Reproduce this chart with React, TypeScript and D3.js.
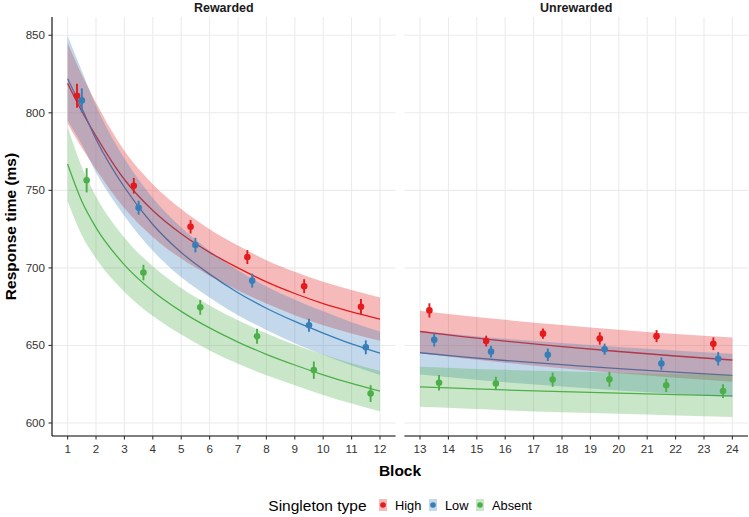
import React from 'react';
import * as d3 from 'd3';

// ---------- data ----------
const seriesNames = ['High', 'Low', 'Absent'];
const seriesColors = ['#E41A1C', '#377EB8', '#4DAF4A'];

const leftTicks = [1, 2, 3, 4, 5, 6, 7, 8, 9, 10, 11, 12];
const rightTicks = [13, 14, 15, 16, 17, 18, 19, 20, 21, 22, 23, 24];
const yTicks = [600, 650, 700, 750, 800, 850];
const panelTitles = ['Rewarded', 'Unrewarded'];

// fitted curves
const leftFitX = [1, 1.5, 2, 3, 4, 5, 6, 7, 8, 9, 10, 11, 12];
const highLeftFit = [819, 801, 785, 757, 737, 722, 710, 700, 691, 683.5, 677, 671.7, 667];
const highLeftUpper = [845, 824.5, 806.5, 775.5, 754, 738, 725, 714.5, 705, 697.5, 691, 685.7, 681];
const highLeftLower = [793, 777.5, 763.5, 738.5, 720, 706, 695, 685.5, 677, 669.5, 663, 657.7, 653];
const lowLeftFit = [822, 803, 783, 752, 728, 710, 696, 684, 674, 665.5, 658, 651, 645];
const lowLeftUpper = [849.5, 827, 804.5, 770.5, 745, 726, 711, 698.5, 688, 679.5, 672, 665, 659];
const lowLeftLower = [795, 779.5, 761.5, 733.5, 711, 694, 681, 669.5, 660, 651.5, 644, 637, 631];
const absentLeftFit = [767, 743, 726, 702, 685, 672, 661.3, 652.2, 644.3, 637.4, 631.1, 625.5, 620.5];
const absentLeftUpper = [791, 765, 746, 719.5, 701, 687, 675.8, 666.2, 657.8, 650.4, 644.1, 638.5, 633.5];
const absentLeftLower = [743, 721, 706, 684.5, 669, 657, 646.8, 638.2, 630.8, 624.4, 618.1, 612.5, 607.5];

const rightFitX = [13, 14.5, 16, 18, 20, 22, 24];
const highRightFit = [659, 655.7, 652.8, 649.3, 646.1, 643.2, 640.6];
const highRightUpper = [672.4, 669.3, 666.5, 663.2, 660.2, 657.4, 655.1];
const highRightLower = [645, 641.7, 638.8, 635.3, 632.1, 629.2, 626.6];
const lowRightFit = [645.3, 642.7, 640.3, 637.6, 635.0, 632.8, 630.7];
const lowRightUpper = [659.3, 656.7, 654.3, 651.6, 649, 646.8, 644.7];
const lowRightLower = [631.3, 628.7, 626.3, 623.6, 621, 618.8, 616.7];
const absentRightFit = [623.3, 622.3, 621.3, 620.2, 619.2, 618.3, 617.5];
const absentRightUpper = [636.2, 635.2, 634.3, 633.3, 632.4, 631.6, 631];
const absentRightLower = [610.4, 609.3, 608.2, 607, 605.9, 604.9, 603.9];

// observed means (pairs of blocks) with error half-widths
const leftPairX = [1.5, 3.5, 5.5, 7.5, 9.5, 11.5];
const rightPairX = [13.5, 15.5, 17.5, 19.5, 21.5, 23.5];
const highLeftMean = [811, 753, 726.5, 707, 688.2, 675];
const highLeftErr = [7.8, 5, 4.3, 4.5, 4.5, 5];
const lowLeftMean = [808, 738.8, 714.7, 691.8, 663, 648.8];
const lowLeftErr = [7.8, 4.5, 4.7, 4.5, 4.2, 4.5];
const absentLeftMean = [756.5, 697, 674.6, 655.9, 634.1, 619];
const absentLeftErr = [7.8, 5, 4.8, 4.8, 5.6, 5.4];
const highRightMean = [672.6, 652.8, 657.6, 654.5, 656, 651.1];
const highRightErr = [4.6, 3.5, 3.3, 4, 3.9, 4.1];
const lowRightMean = [653.6, 646, 644, 647.6, 638.3, 641.4];
const lowRightErr = [4.3, 3.8, 4, 3.6, 4, 4.3];
const absentRightMean = [625.9, 625.5, 628, 628.2, 624.3, 620.6];
const absentRightErr = [5, 4.3, 4.6, 4.8, 4.3, 4.4];

// ---------- layout ----------
const W = 749;
const H = 517;
const FONT = "'Liberation Sans', Arial, Helvetica, sans-serif";
const plotLeft = 52;
const plotRight = 748;
const panelGap = 8.8;
const panelTop = 17;
const panelBottom = 436;
const dodge = [-0.17, 0, 0.17];

type Panel = {
  title: string;
  ticks: number[];
  fitX: number[];
  fits: number[][];
  uppers: number[][];
  lowers: number[][];
  pairX: number[];
  means: number[][];
  errs: number[][];
};

const panels: Panel[] = [
  {
    title: panelTitles[0],
    ticks: leftTicks,
    fitX: leftFitX,
    fits: [highLeftFit, lowLeftFit, absentLeftFit],
    uppers: [highLeftUpper, lowLeftUpper, absentLeftUpper],
    lowers: [highLeftLower, lowLeftLower, absentLeftLower],
    pairX: leftPairX,
    means: [highLeftMean, lowLeftMean, absentLeftMean],
    errs: [highLeftErr, lowLeftErr, absentLeftErr],
  },
  {
    title: panelTitles[1],
    ticks: rightTicks,
    fitX: rightFitX,
    fits: [highRightFit, lowRightFit, absentRightFit],
    uppers: [highRightUpper, lowRightUpper, absentRightUpper],
    lowers: [highRightLower, lowRightLower, absentRightLower],
    pairX: rightPairX,
    means: [highRightMean, lowRightMean, absentRightMean],
    errs: [highRightErr, lowRightErr, absentRightErr],
  },
];

export default function App() {
  const panelW = (plotRight - plotLeft - panelGap) / 2;

  // y domain from all values with 5% expansion
  const allVals: number[] = [];
  panels.forEach((p) => {
    p.uppers.forEach((a) => allVals.push(...a));
    p.lowers.forEach((a) => allVals.push(...a));
    p.means.forEach((m, i) => m.forEach((v, j) => { allVals.push(v + p.errs[i][j], v - p.errs[i][j]); }));
  });
  const [yMin, yMax] = d3.extent(allVals) as [number, number];
  const yPad = (yMax - yMin) * 0.05;
  const y = d3.scaleLinear().domain([yMin - yPad, yMax + yPad]).range([panelBottom, panelTop]);

  return (
    <div style={{ position: 'absolute', left: 0, top: 0 }}>
      <svg width={W} height={H} style={{ display: 'block', background: '#fff' }} fontFamily={FONT}>
        <rect width={W} height={H} fill="#fff" />
        {panels.map((p, pi) => {
          const x0 = plotLeft + pi * (panelW + panelGap);
          const lo = d3.min(p.ticks)!;
          const hi = d3.max(p.ticks)!;
          const xPad = (hi - lo) * 0.05;
          const x = d3.scaleLinear().domain([lo - xPad, hi + xPad]).range([x0, x0 + panelW]);
          const line = d3.line<number>().x((_, i) => x(p.fitX[i])).y((d) => y(d)).curve(d3.curveMonotoneX);
          return (
            <g key={pi}>
              {/* grid */}
              {yTicks.map((t) => (
                <line key={'gy' + t} x1={x0} x2={x0 + panelW} y1={y(t)} y2={y(t)} stroke="#EBEBEB" strokeWidth={1.1} />
              ))}
              {p.ticks.map((t) => (
                <line key={'gx' + t} x1={x(t)} x2={x(t)} y1={panelTop} y2={panelBottom} stroke="#EBEBEB" strokeWidth={1.1} />
              ))}
              {/* fitted lines */}
              {p.fits.map((f, si) => (
                <path key={'l' + si} d={line(f) || ''} fill="none" stroke={seriesColors[si]} strokeWidth={1.3} />
              ))}
              {/* ribbons */}
              {p.fits.map((_, si) => {
                const area = d3
                  .area<number>()
                  .x((_, i) => x(p.fitX[i]))
                  .y0((_, i) => y(p.lowers[si][i]))
                  .y1((_, i) => y(p.uppers[si][i]))
                  .curve(d3.curveMonotoneX);
                return <path key={'r' + si} d={area(p.fitX) || ''} fill={seriesColors[si]} fillOpacity={0.3} stroke="none" />;
              })}
              {/* point ranges */}
              {p.means.map((m, si) =>
                m.map((v, j) => {
                  const px = x(p.pairX[j] + dodge[si]);
                  return (
                    <g key={'p' + si + '-' + j}>
                      <line x1={px} x2={px} y1={y(v - p.errs[si][j])} y2={y(v + p.errs[si][j])} stroke={seriesColors[si]} strokeWidth={1.9} />
                      <circle cx={px} cy={y(v)} r={3.3} fill={seriesColors[si]} />
                    </g>
                  );
                })
              )}
              {/* x axis */}
              <line x1={x0} x2={x0 + panelW} y1={panelBottom} y2={panelBottom} stroke="#000" strokeWidth={1.1} />
              {p.ticks.map((t) => (
                <g key={'xt' + t}>
                  <line x1={x(t)} x2={x(t)} y1={panelBottom} y2={panelBottom + 3.5} stroke="#333" strokeWidth={1.1} />
                  <text x={x(t)} y={453} textAnchor="middle" fontSize={11.6} fill="#333">{t}</text>
                </g>
              ))}
              {/* strip */}
              <text x={x0 + panelW / 2} y={11.5} textAnchor="middle" fontSize={12.5} fontWeight="bold" fill="#1a1a1a">{p.title}</text>
              {pi === 0 && (
                <g>
                  <line x1={x0} x2={x0} y1={panelTop} y2={panelBottom} stroke="#000" strokeWidth={1.1} />
                  {yTicks.map((t) => (
                    <g key={'yt' + t}>
                      <line x1={x0 - 3.5} x2={x0} y1={y(t)} y2={y(t)} stroke="#333" strokeWidth={1.1} />
                      <text x={45} y={y(t) + 4} textAnchor="end" fontSize={11.6} fill="#333">{t}</text>
                    </g>
                  ))}
                </g>
              )}
            </g>
          );
        })}
        {/* axis titles */}
        <text x={(plotLeft + plotRight) / 2} y={476} textAnchor="middle" fontSize={15.5} fontWeight="bold" fill="#000">Block</text>
        <text transform={`translate(16,${(panelTop + panelBottom) / 2}) rotate(-90)`} textAnchor="middle" fontSize={15.5} fontWeight="bold" fill="#000">Response time (ms)</text>
        {/* legend */}
        <text x={268.3} y={511} fontSize={15.5} fill="#000">Singleton type</text>
        {seriesNames.map((n, i) => {
          const kx = [383, 433, 480][i];
          return (
            <g key={'lg' + n}>
              <rect x={kx - 4} y={499} width={8} height={12} fill={seriesColors[i]} fillOpacity={0.3} />
              <circle cx={kx} cy={505} r={2.8} fill={seriesColors[i]} />
              <text x={kx + 12} y={510} fontSize={12.8} fill="#000">{n}</text>
            </g>
          );
        })}
      </svg>
    </div>
  );
}
